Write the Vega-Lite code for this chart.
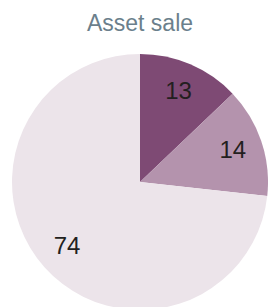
{
  "$schema": "https://vega.github.io/schema/vega-lite/v6.json",
  "autosize": "none",
  "width": 256,
  "height": 256,
  "padding": {"top": 54, "left": 12, "right": 0, "bottom": 0},
  "background": "white",
  "title": {
    "text": "Asset sale",
    "fontSize": 23,
    "font": "Liberation Sans",
    "fontWeight": "normal",
    "color": "#6b7f8c",
    "anchor": "middle",
    "offset": 18
  },
  "data": {
    "values": [
      {"category": "A", "value": 13, "order": 1},
      {"category": "B", "value": 14, "order": 2},
      {"category": "C", "value": 74, "order": 3}
    ]
  },
  "encoding": {
    "theta": {"field": "value", "type": "quantitative", "stack": true},
    "order": {"field": "order", "type": "quantitative"}
  },
  "layer": [
    {
      "mark": {"type": "arc", "radius": 128},
      "encoding": {
        "color": {
          "field": "category",
          "type": "nominal",
          "scale": {"domain": ["A", "B", "C"], "range": ["#7e4a74", "#b493ad", "#ece4ea"]},
          "legend": null
        }
      }
    },
    {
      "mark": {"type": "text", "radius": 98, "fontSize": 24, "font": "Liberation Sans", "color": "#231f20"},
      "encoding": {
        "detail": {"field": "category", "type": "nominal"},
        "text": {"field": "value", "type": "quantitative"}
      }
    }
  ],
  "config": {"view": {"stroke": null}}
}
